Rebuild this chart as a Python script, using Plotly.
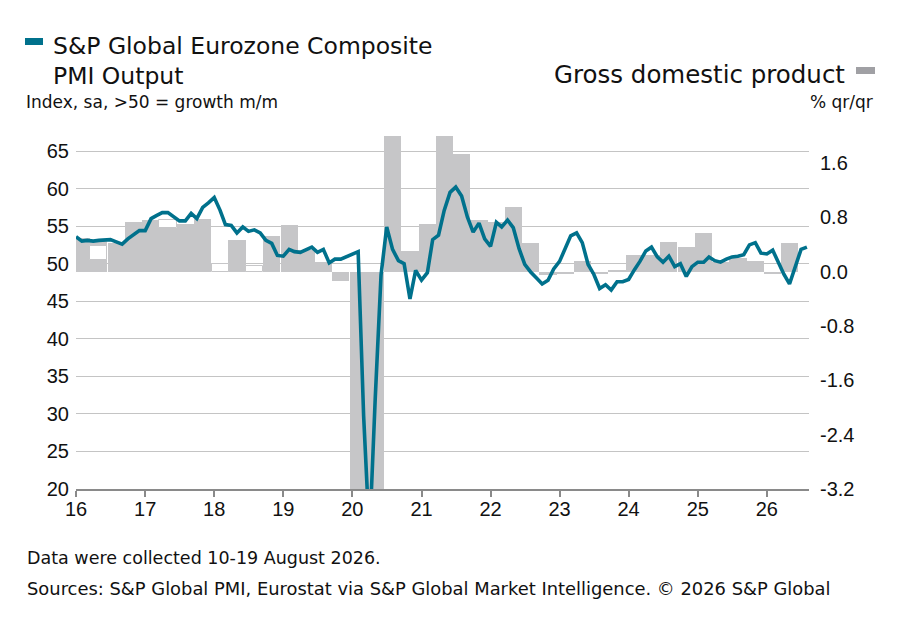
import pandas as pd
import plotly.graph_objects as go

# ---------------- data ----------------
pmi_start = "2016-01-01"
pmi = [
    # 2016
    53.6, 53.0, 53.1, 53.0, 53.1, 53.1, 53.2, 52.9, 52.6, 53.3, 53.9, 54.4,
    # 2017
    54.4, 56.0, 56.4, 56.8, 56.8, 56.3, 55.7, 55.7, 56.7, 56.0, 57.5, 58.1,
    # 2018
    58.8, 57.1, 55.2, 55.1, 54.1, 54.9, 54.3, 54.5, 54.1, 53.1, 52.7, 51.1,
    # 2019
    51.0, 51.9, 51.6, 51.5, 51.8, 52.2, 51.5, 51.9, 50.1, 50.6, 50.6, 50.9,
    # 2020
    51.3, 51.6, 29.7, 13.6, 31.9, 48.5, 54.9, 51.9, 50.4, 50.0, 45.3, 49.1,
    # 2021
    47.8, 48.8, 53.2, 53.8, 57.1, 59.5, 60.2, 59.0, 56.2, 54.2, 55.4, 53.3,
    # 2022
    52.3, 55.5, 54.9, 55.8, 54.8, 52.0, 49.9, 48.9, 48.1, 47.3, 47.8, 49.3,
    # 2023
    50.3, 52.0, 53.7, 54.1, 52.8, 49.9, 48.6, 46.7, 47.2, 46.5, 47.6, 47.6,
    # 2024
    47.9, 49.2, 50.3, 51.7, 52.2, 50.9, 50.2, 51.0, 49.6, 50.0, 48.3, 49.6,
    # 2025
    50.2, 50.2, 50.9, 50.4, 50.2, 50.6, 50.9, 51.0, 51.2, 52.5, 52.8, 51.4,
    # 2026
    51.3, 51.8, 50.3, 48.6, 47.3, 49.7, 51.9, 52.2,
]

# quarterly GDP, % q/q, Q1 2016 .. Q2 2026 (bars centred on mid-quarter month)
gdp_start = "2016-02-01"
gdp = [
    0.50, 0.45, 0.43, 0.74,      # 2016
    0.77, 0.65, 0.71, 0.78,      # 2017
    0.00, 0.47, 0.00, 0.52,      # 2018
    0.69, 0.32, 0.15, -0.13,     # 2019
    -3.7, -11.6, 12.4, 0.31,     # 2020
    0.71, 2.10, 1.74, 0.77,      # 2021
    0.73, 0.96, 0.43, -0.05,     # 2022
    -0.04, 0.16, -0.04, 0.03,    # 2023
    0.25, 0.25, 0.44, 0.36,      # 2024
    0.57, 0.15, 0.20, 0.16,      # 2025
    -0.04, 0.42,                 # 2026
]
# hollow (outlined) parts of some GDP columns: lower / upper value
gdp_hollow_lo = [None] * len(gdp)
gdp_hollow_hi = [None] * len(gdp)
gdp_hollow_lo[1], gdp_hollow_hi[1] = 0.18, 0.38     # Q2 2016
gdp_hollow_lo[5], gdp_hollow_hi[5] = 0.65, 0.76     # Q2 2017
gdp_hollow_lo[8], gdp_hollow_hi[8] = 0.00, 0.12     # Q1 2018
gdp_hollow_lo[10], gdp_hollow_hi[10] = 0.00, 0.08   # Q3 2018

pmi_ticks = [20, 25, 30, 35, 40, 45, 50, 55, 60, 65]
gdp_ticks = [-3.2, -2.4, -1.6, -0.8, 0.0, 0.8, 1.6]
gdp_tick_text = ["-3.2", "-2.4", "-1.6", "-0.8", "0.0", "0.8", "1.6"]

# ---------------- styling ----------------
TEAL = "#00718c"
GREY_BAR = "#c6c6c8"
GRID = "#c4c4c4"
TXT = "#111111"
TITLE_FONT = "DejaVu Sans"
TICK_FONT = "Liberation Sans"

months = pd.date_range(pmi_start, periods=len(pmi), freq="MS")
quarters = pd.date_range(gdp_start, periods=len(gdp), freq="3MS")
qwidth = 91 * 24 * 3600 * 1000  # one quarter in ms

hol_x = [q for q, lo in zip(quarters, gdp_hollow_lo) if lo is not None]
hol_base = [lo for lo in gdp_hollow_lo if lo is not None]
hol_h = [hi - lo for lo, hi in zip(gdp_hollow_lo, gdp_hollow_hi) if lo is not None]

fig = go.Figure()
fig.add_trace(go.Bar(
    x=quarters, y=gdp, width=qwidth, yaxis="y",
    marker=dict(color=GREY_BAR, line=dict(width=0)),
    name="Gross domestic product", showlegend=False,
))
fig.add_trace(go.Bar(
    x=hol_x, y=hol_h, base=hol_base, width=qwidth, yaxis="y",
    marker=dict(color="white", line=dict(width=1, color=GREY_BAR)),
    showlegend=False, hoverinfo="skip",
))
fig.add_trace(go.Scatter(
    x=months, y=pmi, yaxis="y2", mode="lines",
    line=dict(color=TEAL, width=3.6),
    name="S&P Global Eurozone Composite PMI Output", showlegend=False,
))

fig.update_layout(
    width=898, height=617,
    margin=dict(l=76, r=89, t=136, b=128),
    paper_bgcolor="white", plot_bgcolor="white",
    barmode="overlay", bargap=0,
    xaxis=dict(
        type="date", range=["2016-01-01", "2026-08-12"],
        tick0="2016-01-01", dtick="M12", tickformat="%y",
        showgrid=False, zeroline=False,
        showline=True, linecolor="#8a8a8a", linewidth=1.5,
        ticks="outside", ticklen=6, tickcolor="#8a8a8a", tickwidth=1.5,
        ticklabelstandoff=-5,
        tickfont=dict(family=TICK_FONT, size=20, color=TXT),
    ),
    yaxis=dict(
        side="right", range=[-3.2, 2.0],
        tickvals=gdp_ticks, ticktext=gdp_tick_text,
        showgrid=False, zeroline=False, showline=False, ticks="",
        ticklabelstandoff=10,
        tickfont=dict(family=TICK_FONT, size=20, color=TXT),
    ),
    yaxis2=dict(
        side="left", overlaying="y", range=[20, 67],
        tickvals=pmi_ticks,
        showgrid=True, gridcolor=GRID, gridwidth=1,
        zeroline=False, showline=False, ticks="",
        ticklabelstandoff=6,
        tickfont=dict(family=TICK_FONT, size=20, color=TXT),
    ),
)

def px(X):
    return (X - 76) / (809 - 76)

def py(Y):
    return (489 - Y) / (489 - 136)

ann = [
    dict(text="S&P Global Eurozone Composite", x=px(51), y=py(46), xanchor="left",
         yanchor="middle", font=dict(family=TITLE_FONT, size=23.5, color=TXT)),
    dict(text="PMI Output", x=px(51), y=py(76), xanchor="left",
         yanchor="middle", font=dict(family=TITLE_FONT, size=23.5, color=TXT)),
    dict(text="Index, sa, >50 = growth m/m", x=px(24), y=py(102), xanchor="left",
         yanchor="middle", font=dict(family=TITLE_FONT, size=17, color=TXT)),
    dict(text="Gross domestic product", x=px(847), y=py(75), xanchor="right",
         yanchor="middle", font=dict(family=TITLE_FONT, size=24.5, color=TXT)),
    dict(text="% qr/qr", x=px(875), y=py(102), xanchor="right",
         yanchor="middle", font=dict(family=TITLE_FONT, size=17, color=TXT)),
    dict(text="Data were collected 10-19 August 2026.", x=px(25), y=py(558),
         xanchor="left", yanchor="middle",
         font=dict(family=TITLE_FONT, size=17.5, color=TXT)),
    dict(text="Sources: S&P Global PMI, Eurostat via S&P Global Market Intelligence. © 2026 S&P Global",
         x=px(25), y=py(588), xanchor="left", yanchor="middle",
         font=dict(family=TITLE_FONT, size=17.9, color=TXT)),
]
for a in ann:
    a.update(xref="paper", yref="paper", showarrow=False)
fig.update_layout(annotations=ann)

fig.update_layout(shapes=[
    dict(type="rect", xref="paper", yref="paper",
         x0=px(25), x1=px(43), y0=py(45), y1=py(38),
         fillcolor=TEAL, line=dict(width=0)),
    dict(type="rect", xref="paper", yref="paper",
         x0=px(856), x1=px(875), y0=py(74), y1=py(67),
         fillcolor="#a0a0a4", line=dict(width=0)),
])

fig.write_html("out.html", config={"displayModeBar": False},
               post_script="document.body.style.margin='0';")
